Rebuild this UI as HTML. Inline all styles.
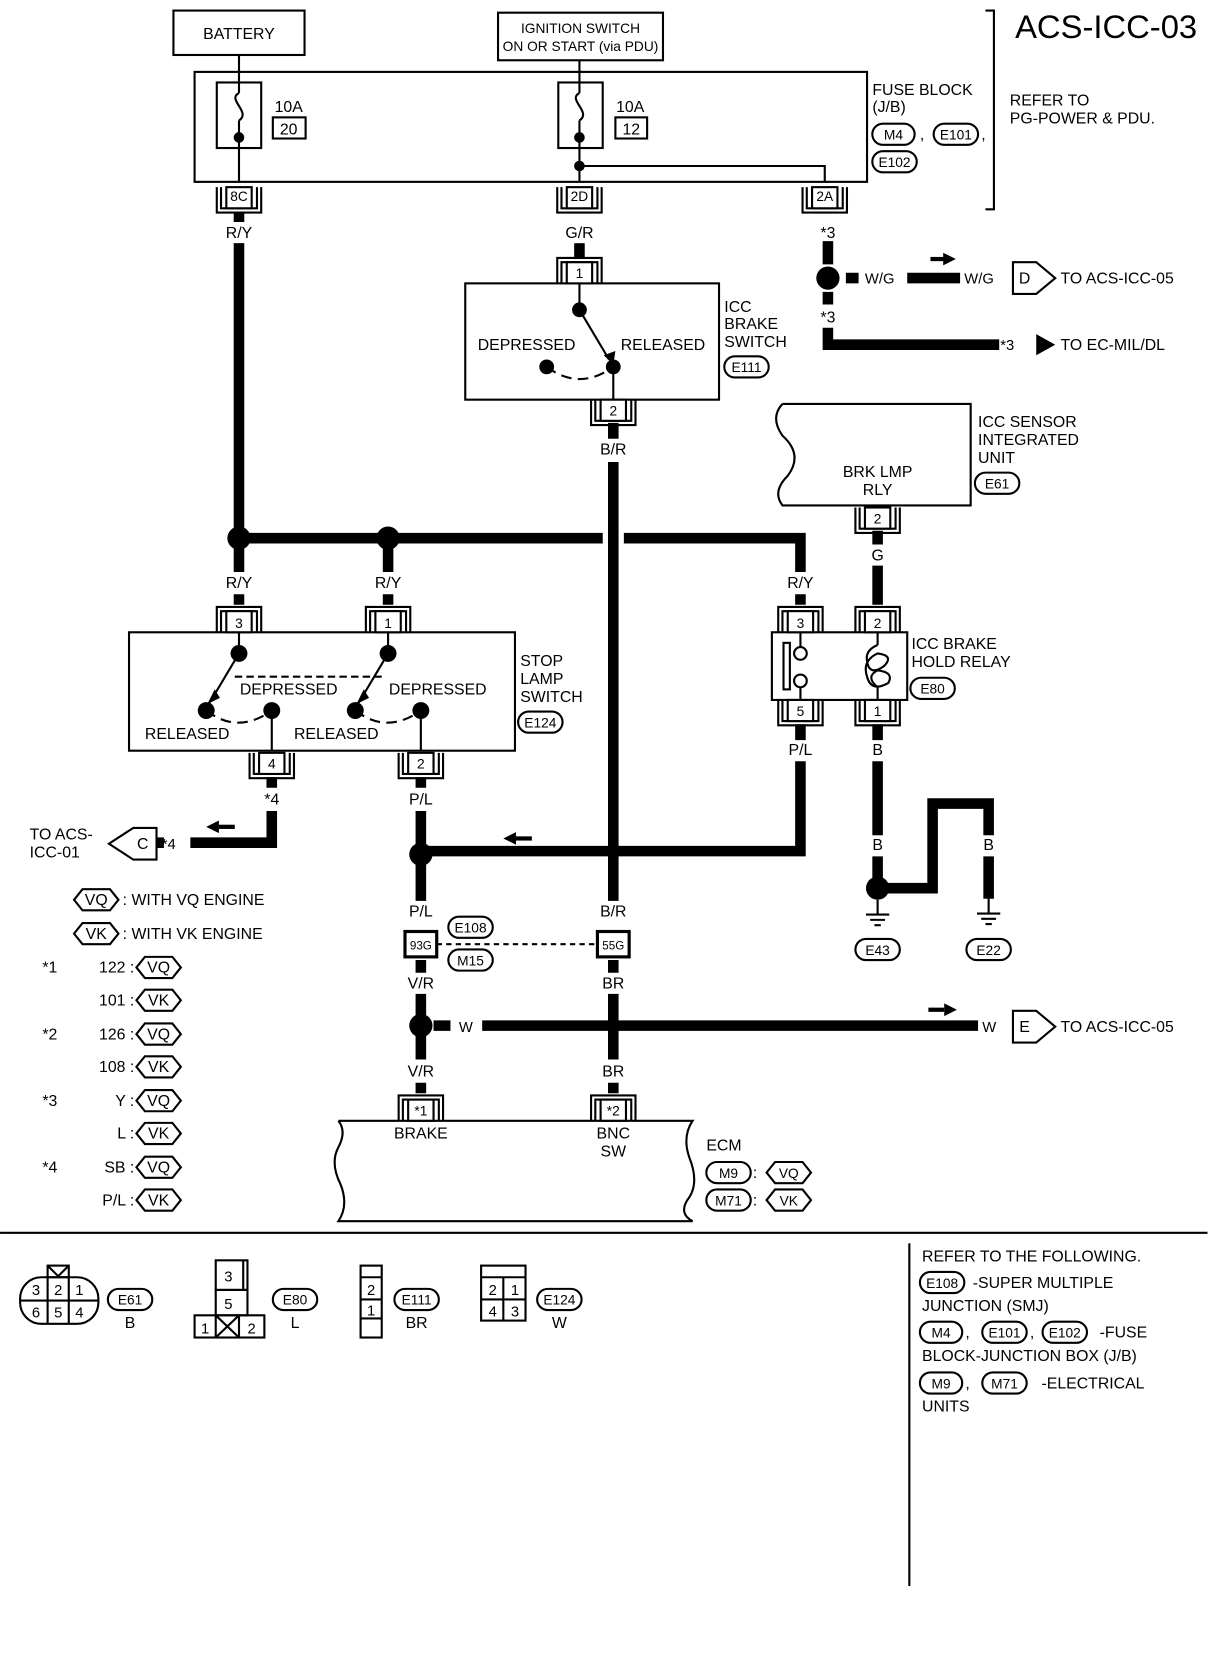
<!DOCTYPE html>
<html><head><meta charset="utf-8"><style>
html,body{margin:0;padding:0;background:#fff}
svg{display:block}
</style></head><body>
<svg width="1216" height="1660" viewBox="0 0 1150 1570" xmlns="http://www.w3.org/2000/svg" font-family="Liberation Sans, sans-serif" font-size="15">
<defs>
<g id="cn"><path d="M-21 20 V-4 H21 V20 M-17 20 V0 H17 V20" fill="none" stroke="#000" stroke-width="2"/><rect x="-12" y="0" width="24" height="20" fill="#fff" stroke="#000" stroke-width="2"/></g>
<g id="cnb"><path d="M-21 -20 V4 H21 V-20 M-17 -20 V0 H17 V-20" fill="none" stroke="#000" stroke-width="2"/><rect x="-12" y="-20" width="24" height="20" fill="#fff" stroke="#000" stroke-width="2"/></g>
<g id="hx"><polygon points="-21,0 -13,-10 13,-10 21,0 13,10 -13,10" fill="#fff" stroke="#000" stroke-width="2"/></g>
<g id="gnd"><path d="M0 0 V14 M-11 14 H11 M-7 19 H7 M-3 24 H3" stroke="#000" stroke-width="2" fill="none"/></g>
</defs>
<g fill="none" stroke="#000" stroke-width="2">
<rect x="164" y="10" width="124" height="42"/>
<rect x="471" y="12" width="156" height="45"/>
<rect x="184" y="68" width="636" height="104"/>
<rect x="205" y="78" width="42" height="62"/>
<rect x="528" y="78" width="42" height="62"/>
<rect x="258" y="111" width="31" height="20"/>
<rect x="582" y="111" width="30" height="20"/>
<path d="M226 52 V88 M226 114 V172 M548 57 V88 M548 114 V172 M548 157 H780 V172"/>
<path d="M226 88 C214 94 238 106 226 114 M548 88 C536 94 560 106 548 114"/>
<path d="M932 10 H940 V198 H932"/>
<rect x="440" y="268" width="240" height="110"/>
<path d="M548 265 V293 M580 347 V378"/>
<path d="M548 293 L576 340" />
<path d="M517 347 Q548 370 580 347" stroke-dasharray="10 6"/>
<path d="M740 382 H918 V478 H740 Q730 465 745 450 Q760 430 740 412 Q728 395 740 382"/>
<rect x="122" y="598" width="365" height="112"/>
<path d="M226 598 V618 L198 665 M367 598 V618 L339 665 M257 672 V710 M398 672 V710"/>
<path d="M222 640 H362" stroke-dasharray="7 4"/>
<path d="M195 672 Q225 695 257 672 M336 672 Q366 695 398 672" stroke-dasharray="10 6"/>
<rect x="730" y="598" width="128" height="64"/>
<rect x="741" y="608" width="6" height="44"/>
<circle cx="757" cy="618" r="6" fill="#fff"/><circle cx="757" cy="644" r="6" fill="#fff"/>
<path d="M757 598 V612 M757 650 V662 M830 598 V610 M830 650 V662"/>
<path d="M830 610 Q818 615 820 625 Q822 640 836 630 Q846 620 830 618 Q815 625 820 640 Q824 655 840 646 Q846 636 830 634 Q818 640 830 650"/>
<path d="M320 1060 H655 Q645 1075 652 1095 Q662 1120 650 1135 Q642 1148 655 1155 H320 Q330 1140 322 1120 Q312 1100 320 1085 Q328 1070 320 1060"/>
<path d="M413 893 H562" stroke-dasharray="5 4"/>
<path d="M0 1166 H1142 M860 1176 V1500" />
<polygon points="958,248 958,278 980,278 998,263 980,248"/>
<polygon points="958,956 958,986 980,986 998,971 980,956"/>
<polygon points="148,783 148,813 126,813 103,798 126,783"/>
</g>
<g fill="none" stroke="#000" stroke-width="10">
<path d="M226 200 V210 M226 230 V541 M226 562 V572"/>
<path d="M548 230 V245"/>
<path d="M580 400 V415 M580 437 V852"/>
<path d="M226 509 H570 M590 509 H757 V541 M757 562 V572"/>
<path d="M367 509 V541 M367 562 V572"/>
<path d="M830 502 V515 M830 535 V572"/>
<path d="M757 685 V700 M757 720 V805 H398"/>
<path d="M830 685 V700 M830 720 V790 M830 810 V840 H882 V760 H935 V790 M935 810 V850"/>
<path d="M257 735 V745 M257 767 V797 H180"/>
<path d="M398 735 V745 M398 767 V852"/>
<path d="M398 908 V920 M398 940 V1002 M398 1024 V1034"/>
<path d="M580 908 V920 M580 940 V1002 M580 1024 V1034"/>
<path d="M410 970 H426 M456 970 H925"/>
<path d="M783 228 V250 M783 276 V288 M783 310 V326 H945"/>
<path d="M800 263 H812 M858 263 H908"/>
<path d="M155 797 H148"/>
</g>
<g fill="#000">
<circle cx="226" cy="130" r="5"/><circle cx="548" cy="130" r="5"/><circle cx="548" cy="157" r="5"/>
<circle cx="548" cy="293" r="7"/><circle cx="517" cy="347" r="7"/><circle cx="580" cy="347" r="7"/>
<polygon points="571,336 580,345 582,332"/>
<circle cx="783" cy="263" r="11"/>
<circle cx="226" cy="509" r="11"/><circle cx="367" cy="509" r="11"/>
<circle cx="226" cy="618" r="8"/><circle cx="367" cy="618" r="8"/>
<circle cx="195" cy="672" r="8"/><circle cx="257" cy="672" r="8"/><circle cx="336" cy="672" r="8"/><circle cx="398" cy="672" r="8"/>
<polygon points="196,666 203,652 208,660"/><polygon points="337,666 344,652 349,660"/>
<circle cx="398" cy="808" r="11"/><circle cx="398" cy="970" r="11"/><circle cx="830" cy="840" r="11"/>
<polygon points="998,326 980,316 980,336"/>
<polygon points="904,245 892,239 892,251"/><rect x="880" y="243" width="14" height="4"/>
<polygon points="905,955 893,949 893,961"/><rect x="878" y="953" width="15" height="4"/>
<polygon points="476,793 488,787 488,799"/><rect x="488" y="791" width="15" height="4"/>
<polygon points="195,782 207,776 207,788"/><rect x="207" y="780" width="15" height="4"/>
</g>
<use href="#cnb" x="226" y="197"/><use href="#cnb" x="548" y="197"/><use href="#cnb" x="780" y="197"/>
<use href="#cn" x="548" y="248"/><use href="#cnb" x="580" y="398"/><use href="#cnb" x="830" y="500"/>
<use href="#cn" x="226" y="578"/><use href="#cn" x="367" y="578"/><use href="#cn" x="757" y="578"/><use href="#cn" x="830" y="578"/>
<use href="#cnb" x="257" y="732"/><use href="#cnb" x="398" y="732"/><use href="#cnb" x="757" y="682"/><use href="#cnb" x="830" y="682"/>
<use href="#cn" x="398" y="1040"/><use href="#cn" x="580" y="1040"/>
<rect x="383" y="881" width="30" height="24" fill="#fff" stroke="#000" stroke-width="3"/>
<rect x="565" y="881" width="30" height="24" fill="#fff" stroke="#000" stroke-width="3"/>
<use href="#gnd" x="830" y="851"/><use href="#gnd" x="935" y="850"/>
<g fill="none" stroke="#000" stroke-width="2">
<rect x="825" y="117" width="40" height="20" rx="10"/><rect x="883" y="117" width="42" height="20" rx="10"/><rect x="825" y="143" width="42" height="20" rx="10"/>
<rect x="685" y="337" width="42" height="20" rx="10"/>
<rect x="922" y="447" width="42" height="20" rx="10"/>
<rect x="861" y="641" width="42" height="20" rx="10"/>
<rect x="490" y="673" width="42" height="20" rx="10"/>
<rect x="424" y="867" width="42" height="20" rx="10"/><rect x="424" y="898" width="42" height="20" rx="10"/>
<rect x="809" y="888" width="42" height="20" rx="10"/><rect x="914" y="888" width="42" height="20" rx="10"/>
<rect x="668" y="1099" width="42" height="20" rx="10"/><rect x="668" y="1125" width="42" height="20" rx="10"/>
<rect x="102" y="1219" width="42" height="20" rx="10"/><rect x="258" y="1219" width="42" height="20" rx="10"/><rect x="373" y="1219" width="42" height="20" rx="10"/><rect x="508" y="1219" width="42" height="20" rx="10"/>
<rect x="870" y="1203" width="42" height="20" rx="10"/>
<rect x="870" y="1250" width="40" height="20" rx="10"/><rect x="929" y="1250" width="42" height="20" rx="10"/><rect x="986" y="1250" width="42" height="20" rx="10"/>
<rect x="870" y="1298" width="40" height="20" rx="10"/><rect x="929" y="1298" width="42" height="20" rx="10"/>
</g>
<use href="#hx" x="746" y="1109"/><use href="#hx" x="746" y="1135"/>
<use href="#hx" x="91" y="851"/><use href="#hx" x="91" y="883"/>
<use href="#hx" x="150" y="915"/><use href="#hx" x="150" y="946"/><use href="#hx" x="150" y="978"/><use href="#hx" x="150" y="1009"/>
<use href="#hx" x="150" y="1041"/><use href="#hx" x="150" y="1072"/><use href="#hx" x="150" y="1104"/><use href="#hx" x="150" y="1135"/>
<g fill="none" stroke="#000" stroke-width="2">
<rect x="19" y="1208" width="74" height="44" rx="20"/>
<path d="M19 1230 H93 M45 1208 V1252 M65 1208 V1252"/>
<rect x="45" y="1197" width="20" height="11"/><path d="M45 1197 L55 1207 L65 1197"/>
<rect x="204" y="1192" width="30" height="28"/><path d="M230 1192 V1220"/>
<rect x="204" y="1220" width="30" height="24"/>
<rect x="184" y="1244" width="66" height="21"/><path d="M204 1244 V1265 M226 1244 V1265 M204 1244 L226 1265 M226 1244 L204 1265"/>
<rect x="341" y="1197" width="20" height="68"/><path d="M341 1208 H361 M341 1229 H361 M341 1247 H361"/>
<rect x="455" y="1197" width="42" height="52"/><path d="M455 1208 H497 M455 1229 H497 M476 1208 V1249"/>
</g>
<g text-anchor="middle">
<text x="226" y="37">BATTERY</text>
<text x="549" y="31" font-size="13">IGNITION SWITCH</text>
<text x="549" y="48" font-size="13">ON OR START (via PDU)</text>
<text x="273" y="106">10A</text><text x="273" y="127">20</text>
<text x="596" y="106">10A</text><text x="597" y="127">12</text>
<text x="226" y="190" font-size="13">8C</text><text x="548" y="190" font-size="13">2D</text><text x="780" y="190" font-size="13">2A</text>
<text x="226" y="225">R/Y</text><text x="548" y="225">G/R</text><text x="783" y="225">*3</text>
<text x="548" y="263" font-size="13">1</text><text x="580" y="393" font-size="13">2</text>
<text x="580" y="430">B/R</text><text x="783" y="305">*3</text>
<text x="498" y="331">DEPRESSED</text><text x="627" y="331">RELEASED</text>
<text x="830" y="451">BRK LMP</text><text x="830" y="468">RLY</text>
<text x="830" y="495" font-size="13">2</text><text x="830" y="530">G</text>
<text x="226" y="556">R/Y</text><text x="367" y="556">R/Y</text><text x="757" y="556">R/Y</text>
<text x="226" y="594" font-size="13">3</text><text x="367" y="594" font-size="13">1</text><text x="757" y="594" font-size="13">3</text><text x="830" y="594" font-size="13">2</text>
<text x="273" y="657">DEPRESSED</text><text x="414" y="657">DEPRESSED</text>
<text x="177" y="699">RELEASED</text><text x="318" y="699">RELEASED</text>
<text x="257" y="727" font-size="13">4</text><text x="398" y="727" font-size="13">2</text>
<text x="757" y="677" font-size="13">5</text><text x="830" y="677" font-size="13">1</text>
<text x="757" y="714">P/L</text><text x="830" y="714">B</text>
<text x="257" y="761">*4</text><text x="398" y="761">P/L</text>
<text x="830" y="804">B</text><text x="882" y="804">B</text><text x="935" y="804">B</text>
<text x="398" y="867">P/L</text><text x="580" y="867">B/R</text>
<text x="398" y="898" font-size="11">93G</text><text x="580" y="898" font-size="11">55G</text>
<text x="398" y="935">V/R</text><text x="580" y="935">BR</text>
<text x="398" y="1018">V/R</text><text x="580" y="1018">BR</text>
<text x="398" y="1055" font-size="13">*1</text><text x="580" y="1055" font-size="13">*2</text>
<text x="398" y="1077">BRAKE</text><text x="580" y="1077">BNC</text><text x="580" y="1094">SW</text>
<text x="845" y="132" font-size="13">M4</text><text x="904" y="132" font-size="13">E101</text><text x="846" y="158" font-size="13">E102</text>
<text x="706" y="352" font-size="13">E111</text><text x="943" y="462" font-size="13">E61</text><text x="882" y="656" font-size="13">E80</text><text x="511" y="688" font-size="13">E124</text>
<text x="445" y="882" font-size="13">E108</text><text x="445" y="913" font-size="13">M15</text>
<text x="830" y="903" font-size="13">E43</text><text x="935" y="903" font-size="13">E22</text>
<text x="689" y="1114" font-size="13">M9</text><text x="689" y="1140" font-size="13">M71</text>
<text x="746" y="1114" font-size="13">VQ</text><text x="746" y="1140" font-size="13">VK</text>
<text x="91" y="856">VQ</text><text x="91" y="888">VK</text>
<text x="150" y="920">VQ</text><text x="150" y="951">VK</text><text x="150" y="983">VQ</text><text x="150" y="1014">VK</text>
<text x="150" y="1046">VQ</text><text x="150" y="1077">VK</text><text x="150" y="1109">VQ</text><text x="150" y="1140">VK</text>
<text x="969" y="268">D</text><text x="969" y="976">E</text><text x="135" y="803">C</text>
<text x="123" y="1234" font-size="13">E61</text><text x="123" y="1256">B</text>
<text x="279" y="1234" font-size="13">E80</text><text x="279" y="1256">L</text>
<text x="394" y="1234" font-size="13">E111</text><text x="394" y="1256">BR</text>
<text x="529" y="1234" font-size="13">E124</text><text x="529" y="1256">W</text>
<text x="34" y="1225" font-size="14">3</text><text x="55" y="1225" font-size="14">2</text><text x="75" y="1225" font-size="14">1</text>
<text x="34" y="1246" font-size="14">6</text><text x="55" y="1246" font-size="14">5</text><text x="75" y="1246" font-size="14">4</text>
<text x="216" y="1212" font-size="14">3</text><text x="216" y="1238" font-size="14">5</text><text x="194" y="1261" font-size="14">1</text><text x="238" y="1261" font-size="14">2</text>
<text x="351" y="1225" font-size="14">2</text><text x="351" y="1244" font-size="14">1</text>
<text x="466" y="1225" font-size="14">2</text><text x="487" y="1225" font-size="14">1</text><text x="466" y="1245" font-size="14">4</text><text x="487" y="1245" font-size="14">3</text>
<text x="891" y="1218" font-size="13">E108</text><text x="890" y="1265" font-size="13">M4</text><text x="950" y="1265" font-size="13">E101</text><text x="1007" y="1265" font-size="13">E102</text>
<text x="890" y="1313" font-size="13">M9</text><text x="950" y="1313" font-size="13">M71</text>
</g>
<text x="960" y="36" font-size="31">ACS-ICC-03</text>
<text x="825" y="90">FUSE BLOCK</text><text x="825" y="106">(J/B)</text>
<text x="870" y="132">,</text><text x="928" y="132">,</text>
<text x="955" y="100">REFER TO</text><text x="955" y="117">PG-POWER &amp; PDU.</text>
<text x="685" y="295">ICC</text><text x="685" y="311">BRAKE</text><text x="685" y="328">SWITCH</text>
<text x="925" y="404">ICC SENSOR</text><text x="925" y="421">INTEGRATED</text><text x="925" y="438">UNIT</text>
<text x="818" y="268" font-size="14">W/G</text><text x="912" y="268" font-size="14">W/G</text>
<text x="1003" y="268">TO ACS-ICC-05</text>
<text x="946" y="331" font-size="14">*3</text><text x="1003" y="331">TO EC-MIL/DL</text>
<text x="862" y="614">ICC BRAKE</text><text x="862" y="631">HOLD RELAY</text>
<text x="492" y="630">STOP</text><text x="492" y="647">LAMP</text><text x="492" y="664">SWITCH</text>
<text x="28" y="794">TO ACS-</text><text x="28" y="811">ICC-01</text>
<text x="153" y="803" font-size="14">*4</text>
<text x="434" y="976" font-size="14">W</text><text x="929" y="976" font-size="14">W</text>
<text x="1003" y="976">TO ACS-ICC-05</text>
<text x="668" y="1088">ECM</text>
<text x="712" y="1114">:</text><text x="712" y="1140">:</text>
<text x="116" y="856">: WITH VQ ENGINE</text><text x="116" y="888">: WITH VK ENGINE</text>
<g text-anchor="end">
<text x="127" y="920">122 :</text><text x="127" y="951">101 :</text><text x="127" y="983">126 :</text><text x="127" y="1014">108 :</text>
<text x="127" y="1046">Y :</text><text x="127" y="1077">L :</text><text x="127" y="1109">SB :</text><text x="127" y="1140">P/L :</text>
</g>
<text x="40" y="920">*1</text><text x="40" y="983">*2</text><text x="40" y="1046">*3</text><text x="40" y="1109">*4</text>
<text x="872" y="1193">REFER TO THE FOLLOWING.</text>
<text x="920" y="1218">-SUPER MULTIPLE</text><text x="872" y="1240">JUNCTION (SMJ)</text>
<text x="913" y="1265">,</text><text x="974" y="1265">,</text><text x="1040" y="1265">-FUSE</text>
<text x="872" y="1287">BLOCK-JUNCTION BOX (J/B)</text>
<text x="913" y="1313">,</text><text x="985" y="1313">-ELECTRICAL</text><text x="872" y="1335">UNITS</text>
</svg>
</body></html>
